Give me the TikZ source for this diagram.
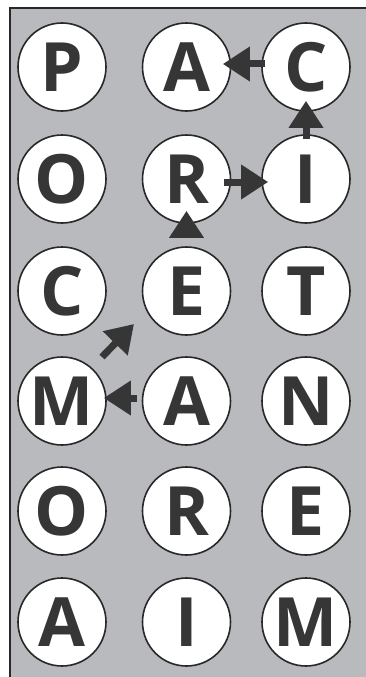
\documentclass[tikz,border=0pt]{standalone}
\usepackage{fontspec}
\setmainfont{Open Sans}
\usetikzlibrary{arrows.meta}
\definecolor{bg}{RGB}{185,186,190}
\definecolor{ink}{RGB}{54,54,54}
\definecolor{rim}{RGB}{40,40,40}
\begin{document}
\begin{tikzpicture}[x=1pt,y=-1pt,
  letter/.style={circle, draw=rim, line width=1.6pt, fill=white, minimum size=88pt,
    inner sep=0pt, font=\fontsize{68}{68}\selectfont\bfseries, text=ink},
  arr/.style={draw=ink, line width=7pt, -{Triangle[length=27pt,width=33pt]}}]
\useasboundingbox (0,0) rectangle (366,677);
\fill[white] (0,0) rectangle (366,677);
\fill[bg] (9,8) rectangle (366,677);
\draw[line width=2pt, rim] (9.5,677) -- (9.5,8) -- (366,8);
% row 1
\node[letter] (p11) at (62,67) {P};
\node[letter] (a12) at (186.5,67) {A};
\node[letter] (c13) at (306,67) {C};
% row 2
\node[letter] (o21) at (62,179) {O};
\node[letter] (r22) at (186.5,179) {R};
\node[letter] (i23) at (306,179) {I};
% row 3
\node[letter] (c31) at (62,291) {C};
\node[letter] (e32) at (186.5,291) {E};
\node[letter] (t33) at (306,291) {T};
% row 4
\node[letter] (m41) at (62,401) {M};
\node[letter] (a42) at (186.5,401) {A};
\node[letter] (n43) at (306,401) {N};
% row 5
\node[letter] (o51) at (62,511) {O};
\node[letter] (r52) at (186.5,511) {R};
\node[letter] (e53) at (306,511) {E};
% row 6
\node[letter] (a61) at (62,622) {A};
\node[letter] (i62) at (186.5,622) {I};
\node[letter] (m63) at (306,622) {M};
% arrows
\draw[arr] ([xshift=4pt,yshift=3pt]c13.west) -- ([xshift=-8.5pt,yshift=3pt]a12.east);
\draw[arr] ([yshift=-5pt]i23.north) -- ([yshift=11pt]c13.south);
\draw[arr] ([xshift=-7pt,yshift=-3pt]r22.east) -- ([xshift=7pt,yshift=-3pt]i23.west);
\draw[arr] ([yshift=8pt]e32.north) -- ([yshift=13pt]r22.south);
\draw[arr] ([xshift=40pt,yshift=44pt]m41.center) -- ([xshift=-52.5pt,yshift=-33pt]e32.center);
\draw[arr] ([xshift=-4.5pt,yshift=3pt]a42.west) -- ([xshift=-3pt,yshift=3pt]m41.east);
\end{tikzpicture}
\end{document}
